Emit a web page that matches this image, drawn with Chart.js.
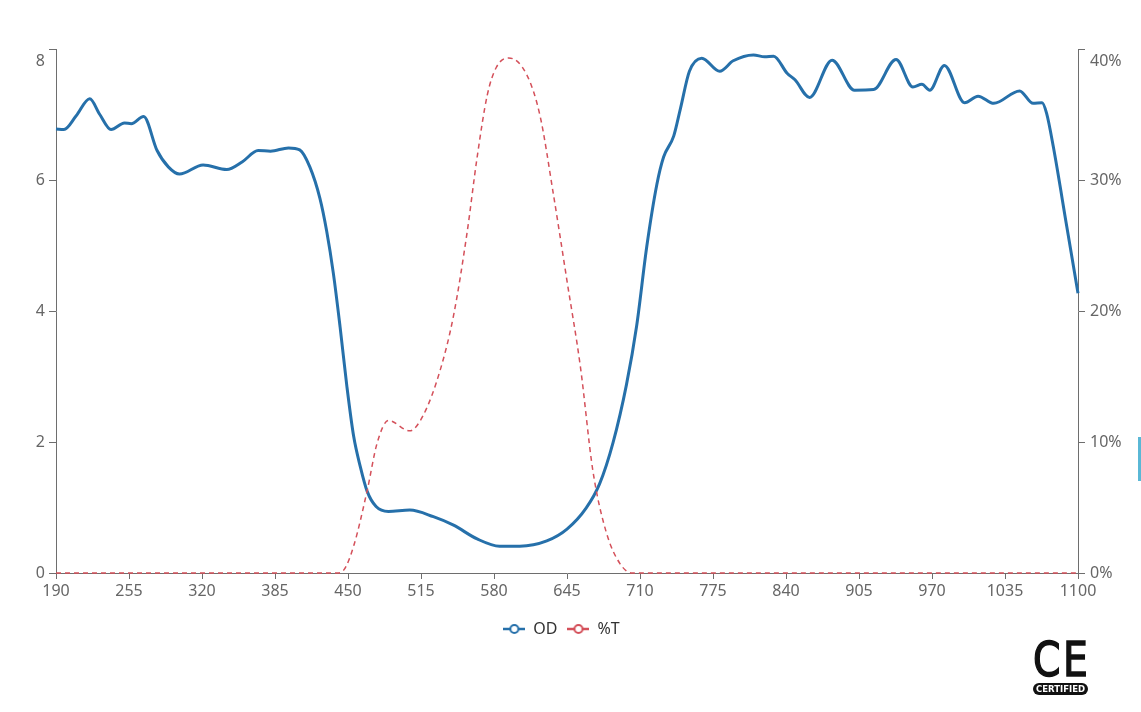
<!DOCTYPE html>
<html>
<head>
<meta charset="utf-8">
<script src="https://cdn.jsdelivr.net/npm/chart.js@4.4.1/dist/chart.umd.min.js"></script>
<style>
  html, body { margin: 0; padding: 0; background: #fff; }
  #wrap { position: relative; width: 1141px; height: 712px; }
  #c { display: block; }
  #ce { position: absolute; left: 1033px; top: 636px; width: 56px; }
  #ce .mark { font-family: 'DejaVu Sans', sans-serif; font-weight: normal; font-size: 48px; line-height: 46px; color: #111; letter-spacing: 3px; -webkit-text-stroke: 1.5px #111; transform: scaleX(0.82); transform-origin: left top; white-space: nowrap; }
  #ce .badge { display: block; width: 55px; margin-top: 1px; background: #111; color: #fff; border-radius: 6px; font-family: 'DejaVu Sans', sans-serif; font-weight: bold; font-size: 8.5px; line-height: 12px; text-align: center; }
  #tab { position: absolute; left: 1138px; top: 437px; width: 3px; height: 44px; background: #5ab8d6; }
</style>
</head>
<body>
<div id="wrap">
  <canvas id="c" width="1141" height="712"></canvas>
  <div id="ce"><div class="mark">CE</div><div class="badge">CERTIFIED</div></div>
  <div id="tab"></div>
</div>
<script>
// ---- Data ----
const odWavelengths = [190, 197, 208, 220, 229, 239, 251, 257, 268, 280, 290, 300, 321, 342, 356, 370, 381, 397, 407, 416, 425, 431, 437, 443, 449, 455, 461, 467, 475, 486, 505, 526, 544, 565, 585, 603, 627, 645, 662, 674, 686, 698, 707, 716, 725, 731, 740, 746, 754, 765, 781, 793, 811, 821, 829, 841, 848, 861, 881, 901, 918, 938, 953, 961, 968, 981, 999, 1011, 1025, 1048, 1060, 1068, 1072, 1078, 1090, 1100];
const odValues = [6.78, 6.77, 6.98, 7.24, 7.0, 6.77, 6.87, 6.86, 6.97, 6.45, 6.2, 6.09, 6.23, 6.16, 6.28, 6.45, 6.44, 6.49, 6.46, 6.2, 5.72, 5.22, 4.57, 3.75, 2.85, 2.09, 1.62, 1.25, 1.015, 0.94, 0.96, 0.86, 0.73, 0.52, 0.41, 0.41, 0.49, 0.67, 0.99, 1.36, 1.99, 2.88, 3.77, 4.98, 5.93, 6.35, 6.67, 7.09, 7.66, 7.86, 7.66, 7.82, 7.91, 7.88, 7.89, 7.63, 7.53, 7.26, 7.83, 7.37, 7.38, 7.84, 7.42, 7.46, 7.37, 7.75, 7.18, 7.28, 7.17, 7.36, 7.17, 7.18, 7.02, 6.51, 5.29, 4.27];
const tWavelengths = [190, 300, 400, 440, 446, 455, 467, 476, 486, 505, 517, 532, 544, 556, 565, 574, 582, 593, 609, 621, 633, 645, 657, 668, 680, 692, 703, 800, 1000, 1100];
const tValues = [0, 0, 0, 0, 0.2, 2.05, 6.26, 9.94, 11.64, 10.85, 12.04, 15.46, 19.66, 25.97, 31.75, 36.48, 38.59, 39.32, 38.06, 34.9, 28.85, 22.3, 15.7, 7.83, 3.1, 0.74, 0, 0, 0, 0];
const seriesNames = ['OD', '%T'];
const xMin = 190, xMax = 1100, xStep = 65;
const odMax = 8, odStep = 2;
const tMax = 40, tStep = 10;

// ---- Styling ----
const BLUE = '#2670aa';
const RED = '#d4505a';
const AXIS = '#6e6e6e';
const FONT = "'Noto Sans', 'Open Sans', sans-serif";
Chart.defaults.font.family = FONT;
Chart.defaults.font.size = 16;
Chart.defaults.color = '#666';

function legendIcon(color) {
  const cv = document.createElement('canvas');
  cv.width = 22; cv.height = 12;
  const g = cv.getContext('2d');
  g.strokeStyle = color; g.lineWidth = 2.5;
  g.beginPath(); g.moveTo(0, 6); g.lineTo(22, 6); g.stroke();
  g.beginPath(); g.arc(11, 6, 4, 0, Math.PI * 2);
  g.fillStyle = '#fff'; g.fill(); g.lineWidth = 2; g.stroke();
  return cv;
}
const icons = [legendIcon(BLUE), legendIcon(RED)];

const topLabels = {
  id: 'topLabels',
  afterDraw(chart) {
    const ctx = chart.ctx;
    const y = chart.scales.y, y1 = chart.scales.y1;
    ctx.save();
    ctx.font = "16px " + FONT;
    ctx.fillStyle = '#666';
    ctx.textBaseline = 'middle';
    ctx.textAlign = 'right';
    ctx.fillText(String(odMax), y.right - 11, y.getPixelForValue(odMax) + 12);
    ctx.textAlign = 'left';
    ctx.fillText(tMax + '%', y1.left + 12, y1.getPixelForValue(tMax) + 12);
    ctx.restore();
  }
};

new Chart(document.getElementById('c'), {
  type: 'line',
  data: {
    datasets: [
      {
        label: seriesNames[0],
        data: odWavelengths.map((w, i) => ({ x: w, y: odValues[i] })),
        yAxisID: 'y',
        borderColor: BLUE,
        backgroundColor: BLUE,
        borderWidth: 3,
        pointRadius: 0,
        cubicInterpolationMode: 'monotone',
        order: 1,
        clip: 6
      },
      {
        label: seriesNames[1],
        data: tWavelengths.map((w, i) => ({ x: w, y: tValues[i] })),
        yAxisID: 'y1',
        borderColor: RED,
        backgroundColor: RED,
        borderWidth: 1.5,
        borderDash: [5, 4],
        pointRadius: 0,
        cubicInterpolationMode: 'monotone',
        order: 0,
        clip: 6
      }
    ]
  },
  options: {
    responsive: false,
    animation: false,
    layout: { padding: { top: 49, left: 0, right: 18, bottom: 65 } },
    plugins: {
      tooltip: { enabled: false },
      legend: {
        position: 'bottom',
        labels: {
          usePointStyle: true,
          pointStyleWidth: 22,
          color: '#333',
          padding: 10,
          font: { size: 16 },
          generateLabels(chart) {
            return chart.data.datasets.map((ds, i) => ({
              text: ds.label,
              pointStyle: icons[i],
              fillStyle: ds.borderColor,
              strokeStyle: ds.borderColor,
              lineWidth: 0,
              hidden: false,
              datasetIndex: i,
              fontColor: '#333'
            }));
          }
        }
      }
    },
    scales: {
      x: {
        type: 'linear',
        min: xMin, max: xMax,
        grid: { display: true, drawOnChartArea: false, tickLength: 6, color: AXIS },
        border: { display: true, color: AXIS, width: 1 },
        ticks: { stepSize: xStep, autoSkip: false, maxRotation: 0, padding: 3, color: '#666',
          callback: v => String(v) },
        afterFit(s) { s.height = 38; }
      },
      y: {
        position: 'left',
        min: 0, max: odMax,
        grid: { display: true, drawOnChartArea: false, tickLength: 7, color: AXIS },
        border: { display: true, color: AXIS, width: 1 },
        ticks: { stepSize: odStep, padding: 4, color: '#666',
          callback: v => (v === odMax ? '' : String(v)) },
        afterFit(s) { s.width = 56; }
      },
      y1: {
        position: 'right',
        min: 0, max: tMax,
        grid: { display: true, drawOnChartArea: false, tickLength: 7, color: AXIS },
        border: { display: true, color: AXIS, width: 1 },
        ticks: { stepSize: tStep, padding: 5, color: '#666',
          callback: v => (v === tMax ? '' : v + '%') },
        afterFit(s) { s.width = 45; }
      }
    }
  },
  plugins: [topLabels]
});
</script>
</body>
</html>
